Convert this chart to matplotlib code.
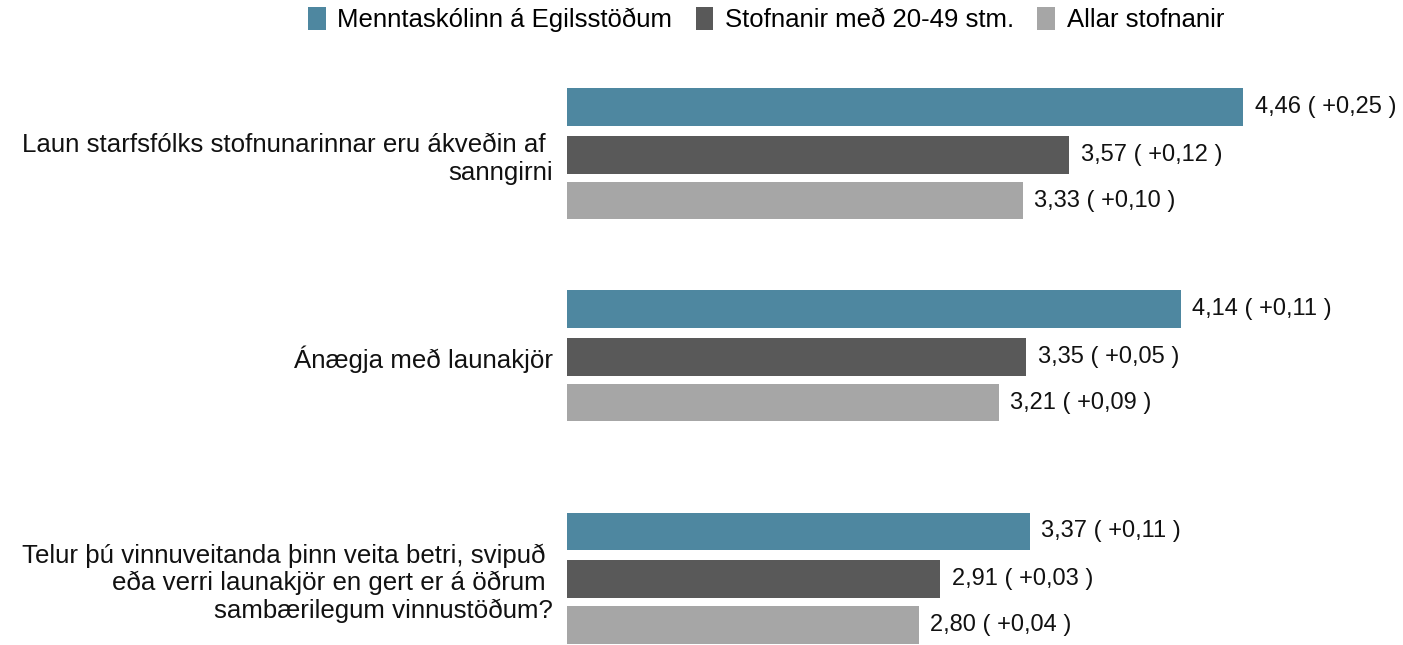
"""Horizontal grouped bar chart: pay-related survey items, three comparison groups."""

import matplotlib

matplotlib.use("Agg")
import matplotlib.pyplot as plt  # noqa: E402
from matplotlib.patches import Patch  # noqa: E402

plt.rcParams["font.family"] = ["Liberation Sans", "DejaVu Sans"]

# wrapped lines keep their trailing space, as in the source chart
questions = [
    "Laun starfsfólks stofnunarinnar eru ákveðin af \nsanngirni",
    "Ánægja með launakjör",
    "Telur þú vinnuveitanda þinn veita betri, svipuð \neða verri launakjör en gert er á öðrum \nsambærilegum vinnustöðum?",
]
series_names = ["Menntaskólinn á Egilsstöðum", "Stofnanir með 20-49 stm.", "Allar stofnanir"]
school = [4.46, 4.14, 3.37]
school_ci = [0.25, 0.11, 0.11]
mid_size = [3.57, 3.35, 2.91]
mid_size_ci = [0.12, 0.05, 0.03]
all_inst = [3.33, 3.21, 2.80]
all_inst_ci = [0.10, 0.09, 0.04]

colors = ["#4E87A0", "#595959", "#A6A6A6"]

# layout: group centres (a bit more room before the three-line question)
group_pos = [0.0, 1.0, 2.1]
offsets = [-0.237, 0.0, 0.227]
bar_h = 0.185


def fmt(v):
    return f"{v:.2f}".replace(".", ",")


fig = plt.figure(figsize=(14.03, 6.45), dpi=100)
ax = fig.add_axes([567 / 1403, 0.0, (1349 - 567) / 1403, 1.0])

series = [(school, school_ci), (mid_size, mid_size_ci), (all_inst, all_inst_ci)]
for (vals, cis), off, col in zip(series, offsets, colors):
    ys = [g + off for g in group_pos]
    widths = [v - 1 for v in vals]
    ax.barh(ys, widths, left=1, height=bar_h, color=col)
    for y, v, c in zip(ys, vals, cis):
        ax.annotate(f"{fmt(v)} ( +{fmt(c)} )", xy=(v, y), xytext=(8, 0),
                    textcoords="offset points", ha="left", va="center",
                    fontsize=17, color="#111111")

ax.set_xlim(1, 5)
ax.set_ylim(2.426, -0.767)
ax.set_yticks(group_pos)
ax.set_yticklabels(questions, fontsize=18.6, color="#111111", linespacing=1.17)
ax.tick_params(axis="y", length=0, pad=10)
ax.set_xticks([])
for s in ax.spines.values():
    s.set_visible(False)

handles = [Patch(facecolor=c, label=n) for c, n in zip(colors, series_names)]
fig.legend(handles=handles, loc="upper center", bbox_to_anchor=(0.546, 1.025),
           ncol=3, frameon=False, fontsize=18.5, handlelength=0.7,
           handleheight=1.0, handletextpad=0.45, columnspacing=0.9)

fig.savefig("out.png", dpi=100)
